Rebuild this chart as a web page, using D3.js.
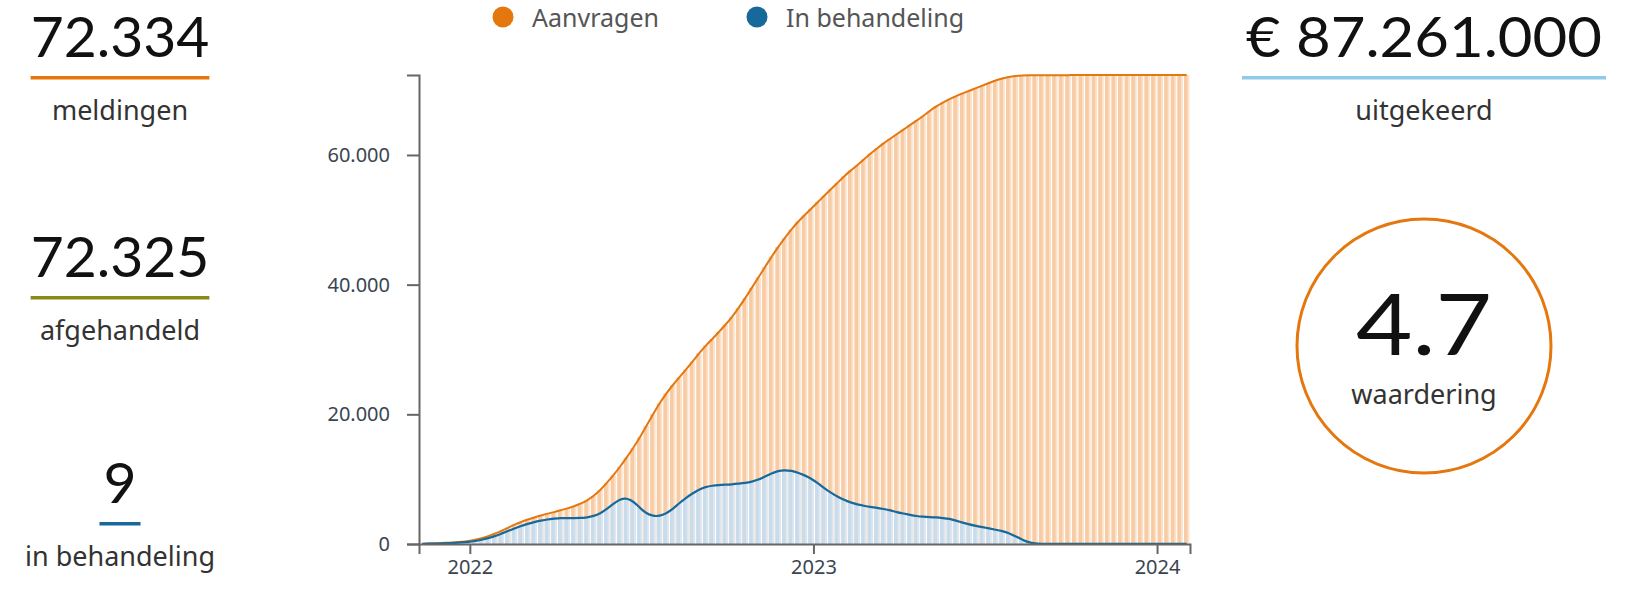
<!DOCTYPE html>
<html>
<head>
<meta charset="utf-8">
<script src="https://cdn.jsdelivr.net/npm/d3@7"></script>
<style>
  body { margin: 0; background: #fff; }
  svg text { font-family: "Noto Sans", sans-serif; }
  .num { font-family: "Lato", "Noto Sans", sans-serif; fill: #111; }
  .axis path, .axis line { stroke: #666; stroke-width: 2; }
  .axis text { font-size: 20px; fill: #3a4550; font-family: "Noto Sans", sans-serif; }
</style>
</head>
<body>
<svg id="dash" width="1639" height="592"></svg>
<script>
    // ---- data ----
    var firstWeek = "2021-11-08";
    var aanvragen = [
        50, 80, 120, 160, 200, 260, 330, 450, 650, 900,
        1200, 1600, 2000, 2500, 3000, 3400, 3800, 4100, 4400, 4700,
        4900, 5200, 5500, 5800, 6200, 6700, 7400, 8300, 9400, 10600,
        11900, 13300, 14800, 16400, 18200, 20000, 21700, 23200, 24500, 25700,
        26900, 28100, 29400, 30600, 31600, 32700, 33800, 35000, 36400, 37900,
        39500, 41100, 42700, 44300, 45800, 47200, 48500, 49700, 50700, 51700,
        52700, 53700, 54700, 55700, 56700, 57600, 58400, 59300, 60200, 61000,
        61800, 62500, 63200, 63900, 64600, 65300, 66000, 66800, 67500, 68100,
        68600, 69100, 69500, 69900, 70300, 70700, 71100, 71500, 71800, 72050,
        72200, 72260, 72290, 72300, 72305, 72308, 72310, 72312, 72314, 72316,
        72318, 72319, 72320, 72321, 72322, 72323, 72324, 72325, 72326, 72327,
        72328, 72329, 72330, 72331, 72332, 72333, 72334
    ];
    var inBehandeling = [
        30, 50, 70, 100, 130, 180, 250, 330, 450, 650,
        900, 1200, 1600, 2000, 2400, 2800, 3100, 3400, 3600, 3800,
        3900, 4000, 4000, 4000, 4000, 4100, 4300, 4700, 5400, 6200,
        6900, 7100, 6600, 5600, 4700, 4300, 4300, 4700, 5400, 6300,
        7100, 7800, 8400, 8800, 9000, 9100, 9150, 9200, 9300, 9400,
        9600, 9900, 10400, 10900, 11300, 11400, 11300, 11000, 10600, 10100,
        9400, 8600, 7900, 7300, 6800, 6400, 6100, 5900, 5700, 5600,
        5400, 5200, 4900, 4700, 4500, 4300, 4200, 4150, 4100, 4000,
        3900, 3600, 3300, 3000, 2800, 2600, 2400, 2200, 2000, 1700,
        1200, 700, 250, 60, 25, 20, 18, 15, 14, 12,
        12, 11, 10, 10, 10, 9, 9, 9, 9, 9,
        9, 9, 9, 9, 9, 9, 9
    ];
    var seriesNames = ["Aanvragen", "In behandeling"];
    var yTicks = [0, 20000, 40000, 60000];
    var yearTicks = ["2022-01-01", "2023-01-01", "2024-01-01"];

    var kpiValues = ["72.334", "72.325", "9"];
    var kpiLabels = ["meldingen", "afgehandeld", "in behandeling"];
    var paidValue = "€ 87.261.000";
    var paidLabel = "uitgekeerd";
    var ratingValue = "4.7";
    var ratingLabel = "waardering";

    // ---- styles ----
    var ORANGE = "#e5770f", BLUE = "#17699b";
    var kpiColors = [ORANGE, "#8a8a1c", BLUE];

    var svg = d3.select("#dash");
    var parseDate = d3.timeParse("%Y-%m-%d");
    var nl = d3.formatLocale({decimal: ",", thousands: ".", grouping: [3], currency: ["€ ", ""]});

    var start = parseDate(firstWeek);
    var weeks = aanvragen.map(function (v, i) { return d3.timeWeek.offset(start, i); });
    var end = d3.timeWeek.offset(start, aanvragen.length);

    var margin = {left: 419, right: 1190, top: 75, bottom: 544};

    var x = d3.scaleTime().domain([start, end]).range([margin.left, margin.right]);
    var y = d3.scaleLinear().domain([0, d3.max(aanvragen)]).range([margin.bottom, margin.top]);

    var step = x(weeks[1]) - x(weeks[0]);
    var barW = step - 1.2;

    var chart = svg.append("g").attr("class", "chart");

    // two tone bars, like the original
    function drawBars(values, dark, light) {
        var g = chart.append("g");
        g.selectAll("rect.b")
            .data(values)
            .enter()
            .append("rect")
            .attr("x", function (d, i) { return x(weeks[i]) + 0.6; })
            .attr("width", barW)
            .attr("y", function (d) { return y(d); })
            .attr("height", function (d) { return y(0) - y(d); })
            .attr("fill", light);
        g.selectAll("rect.d")
            .data(values)
            .enter()
            .append("rect")
            .attr("x", function (d, i) { return x(weeks[i]) + 0.6; })
            .attr("width", barW * 0.65)
            .attr("y", function (d) { return y(d); })
            .attr("height", function (d) { return y(0) - y(d); })
            .attr("fill", dark);
    }
    drawBars(aanvragen, "#f7cba3", "#fce2cb");
    drawBars(inBehandeling, "#c9dcec", "#dce7f1");

    var line = d3.line()
        .x(function (d, i) { return x(weeks[i]) + step / 2; })
        .y(function (d) { return y(d); })
        .curve(d3.curveBasis);

    chart.append("path")
        .datum(aanvragen)
        .attr("d", line)
        .attr("fill", "none")
        .attr("stroke", ORANGE)
        .attr("stroke-width", 2);

    chart.append("path")
        .datum(inBehandeling)
        .attr("d", line)
        .attr("fill", "none")
        .attr("stroke", BLUE)
        .attr("stroke-width", 2.2);

    // axes
    var yAxis = d3.axisLeft(y)
        .tickValues(yTicks)
        .tickFormat(nl.format(",d"))
        .tickSize(12)
        .tickPadding(17);
    svg.append("g")
        .attr("class", "axis")
        .attr("transform", "translate(" + margin.left + ",0)")
        .call(yAxis);

    var xAxis = d3.axisBottom(x)
        .tickValues(yearTicks.map(parseDate))
        .tickFormat(d3.timeFormat("%Y"))
        .tickSize(10)
        .tickPadding(6);
    svg.append("g")
        .attr("class", "axis")
        .attr("transform", "translate(0," + margin.bottom + ")")
        .call(xAxis);

    // legend
    var legendX = [503, 757];
    var legend = svg.append("g").selectAll("g")
        .data(seriesNames)
        .enter()
        .append("g")
        .attr("transform", function (d, i) { return "translate(" + legendX[i] + ",17)"; });
    legend.append("circle")
        .attr("r", 10.5)
        .attr("fill", function (d, i) { return [ORANGE, BLUE][i]; });
    legend.append("text")
        .attr("x", 29)
        .attr("y", 10)
        .style("font-size", "25px")
        .style("fill", "#555")
        .text(function (d) { return d; });

    // KPI blocks on the left
    var kpiTop = [0, 220, 446];
    kpiValues.forEach(function (v, i) {
        var g = svg.append("g").attr("transform", "translate(120," + kpiTop[i] + ")");
        var t = g.append("text")
            .attr("class", "num")
            .attr("text-anchor", "middle")
            .attr("y", 57)
            .style("font-size", "57px")
            .text(v);
        var w = t.node().getComputedTextLength();
        g.append("rect")
            .attr("x", -w / 2 - (w < 60 ? 4 : 0))
            .attr("width", w + (w < 60 ? 8 : 0))
            .attr("y", 76)
            .attr("height", 3.5)
            .attr("fill", kpiColors[i]);
        g.append("text")
            .attr("text-anchor", "middle")
            .attr("y", 120)
            .style("font-size", "27px")
            .style("fill", "#333")
            .text(kpiLabels[i]);
    });

    // right side
    var right = svg.append("g").attr("transform", "translate(1424,0)");
    right.append("text")
        .attr("class", "num")
        .attr("text-anchor", "middle")
        .attr("y", 57)
        .attr("textLength", 356)
        .attr("lengthAdjust", "spacingAndGlyphs")
        .style("font-size", "57px")
        .text(paidValue);
    right.append("rect")
        .attr("x", -182)
        .attr("width", 364)
        .attr("y", 76)
        .attr("height", 3.5)
        .attr("fill", "#8fcbe9");
    right.append("text")
        .attr("text-anchor", "middle")
        .attr("y", 120)
        .style("font-size", "27px")
        .style("fill", "#333")
        .text(paidLabel);

    right.append("circle")
        .attr("cy", 346)
        .attr("r", 127)
        .attr("fill", "none")
        .attr("stroke", ORANGE)
        .attr("stroke-width", 3);
    right.append("text")
        .attr("class", "num")
        .attr("text-anchor", "middle")
        .attr("y", 355)
        .attr("textLength", 136)
        .attr("lengthAdjust", "spacingAndGlyphs")
        .style("font-size", "86px")
        .text(ratingValue);
    right.append("text")
        .attr("text-anchor", "middle")
        .attr("y", 404)
        .style("font-size", "27px")
        .style("fill", "#333")
        .text(ratingLabel);
</script>
</body>
</html>
